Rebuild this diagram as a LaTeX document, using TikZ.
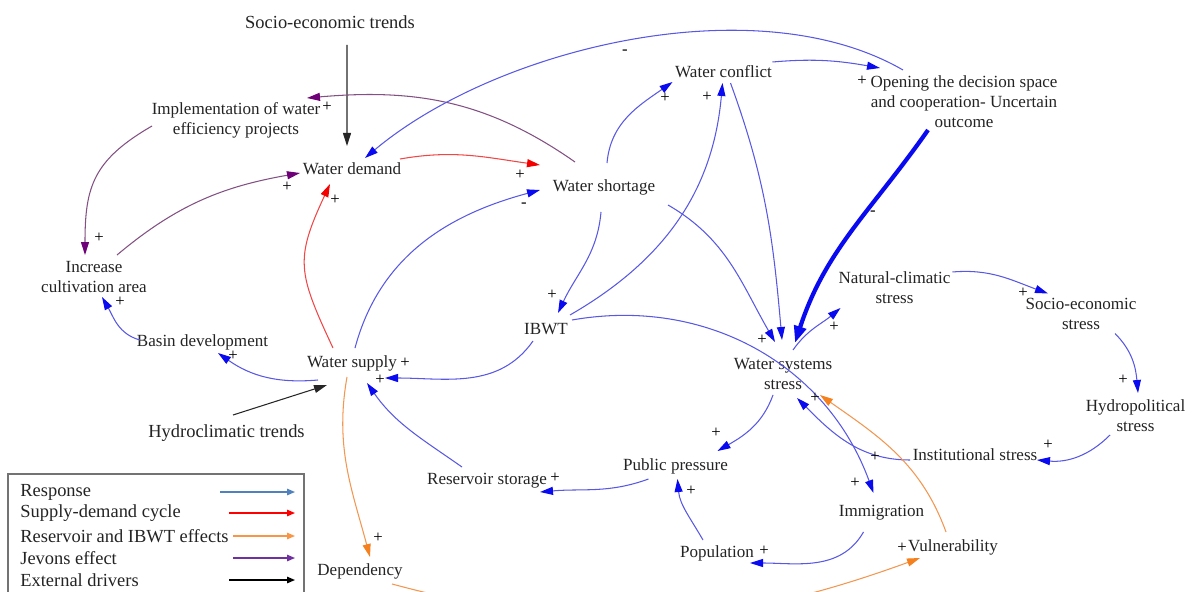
\documentclass[tikz,border=0pt]{standalone}
\usepackage{fontspec}
\setmainfont{Liberation Serif}
\usetikzlibrary{arrows.meta}

\definecolor{respline}{RGB}{88,88,228}
\definecolor{resphead}{RGB}{10,10,240}
\definecolor{sdline}{RGB}{240,70,70}
\definecolor{sdhead}{RGB}{245,0,0}
\definecolor{resvline}{RGB}{242,150,80}
\definecolor{resvhead}{RGB}{245,128,30}
\definecolor{jevline}{RGB}{130,80,130}
\definecolor{jevhead}{RGB}{110,0,120}
\definecolor{legresp}{RGB}{79,129,189}
\definecolor{legjev}{RGB}{112,48,160}
\definecolor{legresv}{RGB}{247,150,70}
\definecolor{txt}{RGB}{35,35,35}

\tikzset{
  var/.style={font=\fontsize{9.7}{11.4}\selectfont,align=center,inner sep=0pt,text=txt},
  drv/.style={font=\fontsize{10.5}{12.5}\selectfont,inner sep=0pt,text=txt},
  pol/.style={font=\fontsize{9.5}{10}\selectfont,inner sep=0pt,text=black},
  legtxt/.style={font=\fontsize{10.5}{12.5}\selectfont,inner sep=0pt,anchor=west,text=txt},
  headcol/.style={-{Triangle[length=2.6mm,width=1.6mm,color=#1]}},
  resp/.style={draw=respline,line width=0.6pt,headcol=resphead},
  sd/.style={draw=sdline,line width=0.6pt,headcol=sdhead},
  resv/.style={draw=resvline,line width=0.6pt,headcol=resvhead},
  jev/.style={draw=jevline,line width=0.6pt,headcol=jevhead},
  drive/.style={draw=black!85,line width=0.6pt,-{Triangle[length=2.6mm,width=1.6mm]}},
  legarr/.style={line width=0.8pt,-{Triangle[length=1.6mm,width=1.3mm]}}
}

\begin{document}
\begin{tikzpicture}
  \useasboundingbox (0,0) rectangle (23.88,-11.84);
  % variables
  \node[drv] (setrend) at (6.6,-0.44) {Socio-economic trends};
  \node[var] (impl) at (4.72,-2.4) {Implementation of water\\efficiency projects};
  \node[var] (wdem) at (7.04,-3.38) {Water demand};
  \node[var] (wshort) at (12.08,-3.74) {Water shortage};
  \node[var] (wconf) at (14.47,-1.44) {Water conflict};
  \node[var] (open) at (19.28,-2.04) {Opening the decision space\\and cooperation- Uncertain\\outcome};
  \node[var] (incr) at (1.88,-5.54) {Increase\\cultivation area};
  \node[var] (basin) at (4.05,-6.84) {Basin development};
  \node[var] (wsup) at (7.04,-7.26) {Water supply};
  \node[drv] (hydro) at (4.53,-8.66) {Hydroclimatic trends};
  \node[var] (ibwt) at (10.92,-6.58) {IBWT};
  \node[var] (wss) at (15.66,-7.48) {Water systems\\stress};
  \node[var] (natc) at (17.89,-5.76) {Natural-climatic\\stress};
  \node[var] (soces) at (21.62,-6.27) {Socio-economic\\stress};
  \node[var] (hydpol) at (22.71,-8.32) {Hydropolitical\\stress};
  \node[var] (inst) at (19.5,-9.1) {Institutional stress};
  \node[var] (pub) at (13.51,-9.32) {Public pressure};
  \node[var] (res) at (9.74,-9.62) {Reservoir storage};
  \node[var] (immig) at (17.63,-10.26) {Immigration};
  \node[var] (pop) at (14.34,-11.06) {Population};
  \node[var] (vuln) at (19.06,-10.94) {Vulnerability};
  \node[var] (dep) at (7.2,-11.42) {Dependency};

  % external drivers
  \draw[drive] ([shift={(0.34,-0.46)}]setrend.center) -- ([shift={(-0.1,0.46)}]wdem.center);
  \draw[drive] ([shift={(0.13,0.36)}]hydro.center) -- ([shift={(-0.5,-0.44)}]wsup.center);

  % Jevons effect
  \draw[jev] ([shift={(-0.58,0.5)}]wshort.center) to[out=145,in=5] ([shift={(1.42,0.44)}]impl.center);
  \draw[jev] ([shift={(-1.68,-0.12)}]impl.center) to[out=210,in=90,looseness=1.2] ([shift={(-0.18,0.44)}]incr.center);
  \draw[jev] ([shift={(0.46,0.44)}]incr.center) to[out=40,in=190] ([shift={(-1.04,-0.08)}]wdem.center);

  % supply-demand cycle
  \draw[sd] ([shift={(0.96,0.2)}]wdem.center) to[out=10,in=172] ([shift={(-1.28,0.44)}]wshort.center);
  \draw[sd] ([shift={(-0.38,0.3)}]wsup.center) to[out=115,in=245,looseness=1.3] ([shift={(-0.44,-0.3)}]wdem.center);

  % response
  \draw[resp] ([shift={(0.06,0.3)}]wsup.center) to[out=75,in=195] ([shift={(-1.28,-0.06)}]wshort.center);
  \draw[resp] ([shift={(-0.68,-0.34)}]wsup.center) to[out=185,in=325] ([shift={(0.31,-0.22)}]basin.center);
  \draw[resp] ([shift={(-1.25,0.04)}]basin.center) to[out=165,in=300] ([shift={(0.16,-0.4)}]incr.center);
  \draw[resp] ([shift={(-0.26,-0.24)}]ibwt.center) to[out=235,in=0] ([shift={(0.66,-0.3)}]wsup.center);
  \draw[resp] ([shift={(-0.5,0.28)}]res.center) to[out=145,in=305] ([shift={(0.3,-0.4)}]wsup.center);
  \draw[resp] ([shift={(0.06,0.48)}]wshort.center) to[out=85,in=215] ([shift={(-1.02,-0.2)}]wconf.center);
  \draw[resp] ([shift={(0.48,0.28)}]ibwt.center) to[out=30,in=265] ([shift={(-0.02,-0.22)}]wconf.center);
  \draw[resp] ([shift={(-0.06,-0.5)}]wshort.center) to[out=265,in=65] ([shift={(0.24,0.32)}]ibwt.center);
  \draw[resp] ([shift={(0.14,-0.22)}]wconf.center) to[out=290,in=95] ([shift={(-0.02,0.68)}]wss.center);
  \draw[resp] ([shift={(0.98,0.2)}]wconf.center) to[out=5,in=170] ([shift={(-1.68,0.68)}]open.center);
  \draw[resp] ([shift={(-1.22,0.64)}]open.center) to[out=150,in=40,looseness=0.8] ([shift={(0.26,0.22)}]wdem.center);
  \draw[draw=resphead,line width=2.4pt,-{Triangle[length=3.4mm,width=2.4mm]}]
    ([shift={(-0.72,-0.56)}]open.center) to[out=235,in=72] ([shift={(0.24,0.62)}]wss.center); %thick
  \draw[resp] ([shift={(1.28,-0.36)}]wshort.center) to[out=-30,in=120] ([shift={(-0.16,0.64)}]wss.center);
  \draw[resp] ([shift={(0.52,0.18)}]ibwt.center) to[out=10,in=110] ([shift={(-0.16,0.4)}]immig.center);
  \draw[resp] ([shift={(0.2,0.48)}]wss.center) to[out=55,in=220] ([shift={(-1.08,-0.4)}]natc.center);
  \draw[resp] ([shift={(1.16,0.32)}]natc.center) to[out=5,in=160] ([shift={(-0.66,0.4)}]soces.center);
  \draw[resp] ([shift={(0.68,-0.4)}]soces.center) to[out=-45,in=95] ([shift={(0.05,0.46)}]hydpol.center);
  \draw[resp] ([shift={(-0.51,-0.38)}]hydpol.center) to[out=225,in=355] ([shift={(1.24,-0.1)}]inst.center);
  \draw[resp] ([shift={(-1.3,-0.1)}]inst.center) to[out=180,in=315] ([shift={(0.28,-0.48)}]wss.center);
  \draw[resp] ([shift={(-0.2,-0.42)}]wss.center) to[out=250,in=30] ([shift={(0.84,0.3)}]pub.center);
  \draw[resp] ([shift={(-0.54,-0.26)}]pub.center) to[out=200,in=5] ([shift={(1.06,-0.22)}]res.center);
  \draw[resp] ([shift={(-0.28,0.26)}]pop.center) to[out=120,in=275] ([shift={(0.04,-0.26)}]pub.center);
  \draw[resp] ([shift={(-0.36,-0.38)}]immig.center) to[out=240,in=0] ([shift={(0.66,-0.2)}]pop.center);

  % reservoir and IBWT effects
  \draw[resv] ([shift={(-0.1,-0.28)}]wsup.center) to[out=260,in=105] ([shift={(0.2,0.28)}]dep.center);
  \draw[resv] ([shift={(0.64,-0.26)}]dep.center) to[out=-15,in=200] ([shift={(-0.66,-0.22)}]vuln.center);
  \draw[resv] ([shift={(-0.14,0.3)}]vuln.center) to[out=110,in=325] ([shift={(0.74,-0.42)}]wss.center);

  % polarities
  \node[pol] (p1) at (6.54,-2.14) {+};
  \node[pol] (p2) at (1.98,-4.76) {+};
  \node[pol] (p3) at (5.74,-3.74) {+};
  \node[pol] (p4) at (6.7,-4.0) {+};
  \node[pol] (p5) at (10.4,-3.5) {+};
  \node[pol] (p6) at (10.48,-4.1) {-};
  \node[pol] (p7) at (12.5,-1.04) {-};
  \node[pol] (p8) at (13.3,-1.96) {+};
  \node[pol] (p9) at (14.14,-1.94) {+};
  \node[pol] (p10) at (17.24,-1.62) {+};
  \node[pol] (p11) at (17.46,-4.26) {-};
  \node[pol] (p12) at (11.04,-5.9) {+};
  \node[pol] (p13) at (4.66,-7.12) {+};
  \node[pol] (p14) at (2.4,-6.04) {+};
  \node[pol] (p15) at (8.1,-7.26) {+};
  \node[pol] (p16) at (7.6,-7.6) {+};
  \node[pol] (p17) at (7.56,-10.76) {+};
  \node[pol] (p18) at (11.1,-9.56) {+};
  \node[pol] (p19) at (14.32,-8.66) {+};
  \node[pol] (p20) at (13.82,-9.82) {+};
  \node[pol] (p21) at (15.28,-11.02) {+};
  \node[pol] (p22) at (17.1,-9.66) {+};
  \node[pol] (p23) at (18.04,-10.96) {+};
  \node[pol] (p24) at (15.24,-6.8) {+};
  \node[pol] (p25) at (16.3,-7.96) {+};
  \node[pol] (p26) at (17.5,-9.14) {+};
  \node[pol] (p27) at (16.68,-6.54) {+};
  \node[pol] (p28) at (20.46,-5.86) {+};
  \node[pol] (p29) at (22.46,-7.6) {+};
  \node[pol] (p30) at (20.96,-8.9) {+};

  % legend
  \draw[draw=black!55,line width=0.6pt] (0.16,-9.48) rectangle (6.08,-12.3);
  \node[legtxt] (lresp) at (0.4,-9.84) {Response};
  \node[legtxt] (lsd) at (0.4,-10.26) {Supply-demand cycle};
  \node[legtxt] (lresv) at (0.4,-10.72) {Reservoir and IBWT effects};
  \node[legtxt] (ljev) at (0.4,-11.16) {Jevons effect};
  \node[legtxt] (lext) at (0.4,-11.6) {External drivers};
  \coordinate (lresp0) at (4.4,-9.84);   \coordinate (lresp1) at (5.9,-9.84);
  \coordinate (lsd0) at (4.58,-10.26);   \coordinate (lsd1) at (5.9,-10.26);
  \coordinate (lresv0) at (4.66,-10.72); \coordinate (lresv1) at (5.9,-10.72);
  \coordinate (ljev0) at (4.66,-11.16);  \coordinate (ljev1) at (5.9,-11.16);
  \coordinate (lext0) at (4.58,-11.6);   \coordinate (lext1) at (5.9,-11.6);
  \draw[legarr,legresp] (lresp0) -- (lresp1);
  \draw[legarr,red] (lsd0) -- (lsd1);
  \draw[legarr,legresv] (lresv0) -- (lresv1);
  \draw[legarr,legjev] (ljev0) -- (ljev1);
  \draw[legarr,black] (lext0) -- (lext1);
\end{tikzpicture}
\end{document}
